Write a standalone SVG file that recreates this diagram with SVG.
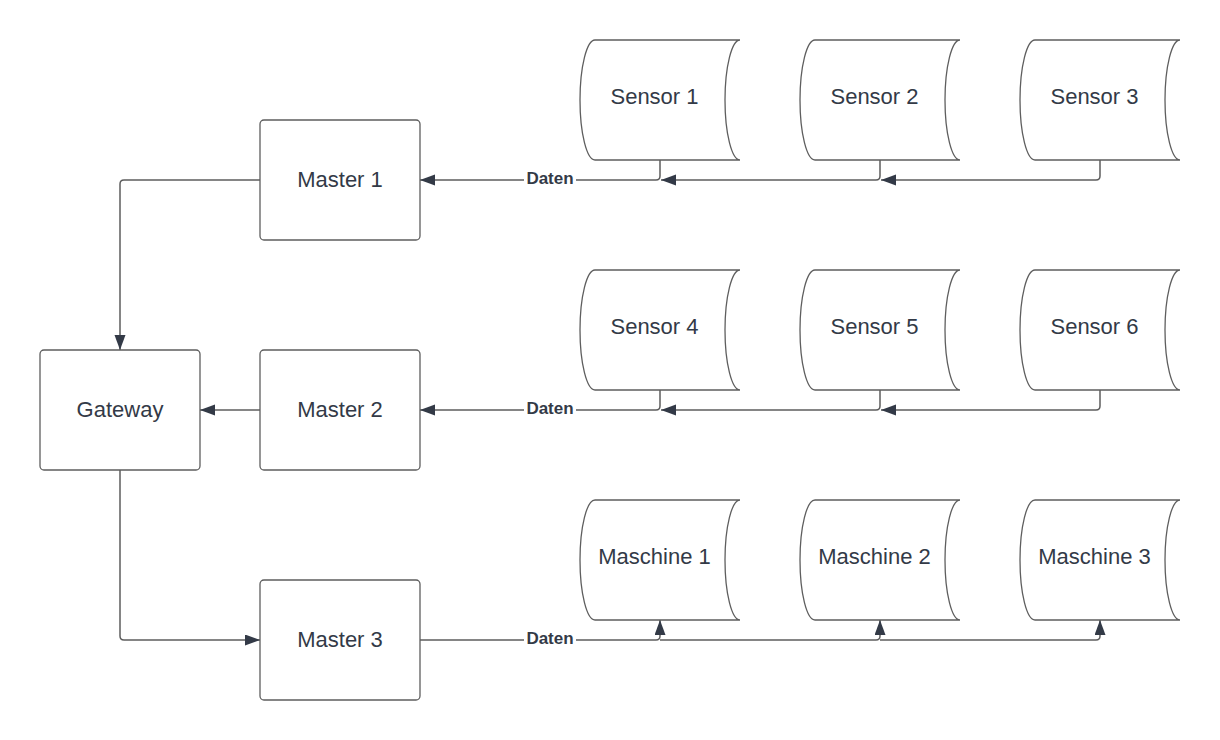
<svg xmlns="http://www.w3.org/2000/svg" width="1220" height="740" viewBox="0 0 1220 740">
<defs>
<style>
.box{fill:#fff;stroke:#5e5e5e;stroke-width:1.3}
.lbl{font-family:"Liberation Sans",Arial,sans-serif;font-size:22px;fill:#333a47;text-anchor:middle}
.edge{fill:none;stroke:#5e5e5e;stroke-width:1.5}
.dt{font-family:"Liberation Sans",Arial,sans-serif;font-size:17px;font-weight:bold;fill:#333a47;text-anchor:middle}
</style>
<marker id="ah" markerUnits="userSpaceOnUse" markerWidth="16" markerHeight="12" refX="15" refY="5.5" orient="auto">
<path d="M0,0 L15,5.5 L0,11 z" fill="#333a47"/>
</marker>
<path id="stor" d="M15,0 L160,0 A15,60 0 0 0 160,120 L15,120 A15,60 0 0 1 15,0 z"/>
</defs>
<rect width="1220" height="740" fill="#fff"/>

<g id="connectors">
<path class="edge" d="M260,180 L124,180 Q120,180 120,184 L120,350" marker-end="url(#ah)"/>
<path class="edge" d="M260,410 L200,410" marker-end="url(#ah)"/>
<path class="edge" d="M120,470 L120,636 Q120,640 124,640 L260,640" marker-end="url(#ah)"/>
<path class="edge" d="M660,160 L660,176 Q660,180 656,180 L420,180" marker-end="url(#ah)"/>
<path class="edge" d="M880,160 L880,176 Q880,180 876,180 L661,180" marker-end="url(#ah)"/>
<path class="edge" d="M1100,160 L1100,176 Q1100,180 1096,180 L881,180" marker-end="url(#ah)"/>
<path class="edge" d="M660,390 L660,406 Q660,410 656,410 L420,410" marker-end="url(#ah)"/>
<path class="edge" d="M880,390 L880,406 Q880,410 876,410 L661,410" marker-end="url(#ah)"/>
<path class="edge" d="M1100,390 L1100,406 Q1100,410 1096,410 L881,410" marker-end="url(#ah)"/>
<path class="edge" d="M420,640 L656,640 Q660,640 660,636 L660,620" marker-end="url(#ah)"/>
<path class="edge" d="M660,640 L876,640 Q880,640 880,636 L880,620" marker-end="url(#ah)"/>
<path class="edge" d="M880,640 L1096,640 Q1100,640 1100,636 L1100,620" marker-end="url(#ah)"/>
<g id="labels">
<rect x="524" y="170" width="52" height="19" fill="#fff"/>
<text class="dt" x="550" y="184">Daten</text>
<rect x="524" y="400" width="52" height="19" fill="#fff"/>
<text class="dt" x="550" y="414">Daten</text>
<rect x="524" y="630" width="52" height="19" fill="#fff"/>
<text class="dt" x="550" y="644">Daten</text>
</g>
</g>

<g id="gateway"><rect class="box" x="40" y="350" width="160" height="120" rx="4"/><text class="lbl" x="120" y="416.5">Gateway</text></g>
<g id="master1"><rect class="box" x="260" y="120" width="160" height="120" rx="4"/><text class="lbl" x="340" y="186.5">Master 1</text></g>
<g id="master2"><rect class="box" x="260" y="350" width="160" height="120" rx="4"/><text class="lbl" x="340" y="416.5">Master 2</text></g>
<g id="master3"><rect class="box" x="260" y="580" width="160" height="120" rx="4"/><text class="lbl" x="340" y="646.5">Master 3</text></g>

<g id="sensor1"><use href="#stor" class="box" x="580" y="40"/><text class="lbl" x="654.5" y="103.5">Sensor 1</text></g>
<g id="sensor2"><use href="#stor" class="box" x="800" y="40"/><text class="lbl" x="874.5" y="103.5">Sensor 2</text></g>
<g id="sensor3"><use href="#stor" class="box" x="1020" y="40"/><text class="lbl" x="1094.5" y="103.5">Sensor 3</text></g>
<g id="sensor4"><use href="#stor" class="box" x="580" y="270"/><text class="lbl" x="654.5" y="333.5">Sensor 4</text></g>
<g id="sensor5"><use href="#stor" class="box" x="800" y="270"/><text class="lbl" x="874.5" y="333.5">Sensor 5</text></g>
<g id="sensor6"><use href="#stor" class="box" x="1020" y="270"/><text class="lbl" x="1094.5" y="333.5">Sensor 6</text></g>
<g id="maschine1"><use href="#stor" class="box" x="580" y="500"/><text class="lbl" x="654.5" y="563.5">Maschine 1</text></g>
<g id="maschine2"><use href="#stor" class="box" x="800" y="500"/><text class="lbl" x="874.5" y="563.5">Maschine 2</text></g>
<g id="maschine3"><use href="#stor" class="box" x="1020" y="500"/><text class="lbl" x="1094.5" y="563.5">Maschine 3</text></g>
</svg>
